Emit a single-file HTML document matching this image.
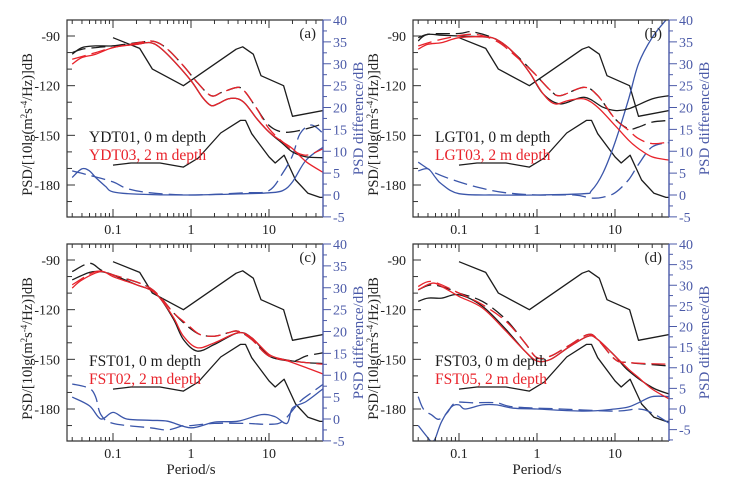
<!DOCTYPE html>
<html><head><meta charset="utf-8">
<style>
html,body{margin:0;padding:0;background:#fff;}
svg{display:block;font-family:"Liberation Serif",serif;}
</style></head>
<body>
<svg id="chart" width="752" height="480" viewBox="0 0 752 480" xmlns="http://www.w3.org/2000/svg"></svg>
<script>
// Shared noise models (period s, dB)
const nhnmP = [0.1,0.22,0.32,0.8,3.8,4.6,6.3,7.9,15.4,20,50];
const nhnmV = [-91,-97.5,-110,-120,-98,-96.5,-101,-114,-120,-138.5,-135];
const nlnmP = [0.1,0.17,0.4,0.8,1.24,2.4,4.3,5,6,10,12,15.6,21.9,31.6,45,50];
const nlnmV = [-168,-166.7,-166.7,-169.2,-163.7,-148.6,-141,-141,-149,-163,-166.7,-162,-177,-185,-187.5,-187.5];

// Panel (a)
const aRedSolidP=[0.03,0.04,0.06,0.1,0.2,0.3,0.4,0.6,1,1.4,1.8,2.2,3,4,5,7,10,15,20,30,50];
const aRedSolidV=[-107,-103,-101,-97,-95,-94,-97,-105,-117,-127,-132,-131,-128,-128,-131,-140,-148,-154,-158,-166,-172.5];
const aRedDashP=[0.03,0.06,0.1,0.25,0.35,0.5,0.8,1.2,1.8,2.5,4,5,7,10,15,20,30,50];
const aRedDashV=[-104,-100,-97,-93.5,-93.5,-98,-108,-118,-126,-124,-121,-124,-134,-146,-154,-159,-162,-158];
const aBlkSolidP=[0.03,0.04,0.06,0.1,0.2,0.3,0.4,0.6,1,1.4,1.8,2.2,3,4,5,7,10,15,20,30,50];
const aBlkSolidV=[-101,-97,-96,-96,-95,-94,-97,-105,-117,-127,-132,-131,-128,-128,-131,-140,-148,-155,-160,-163,-163.5];
const aBlkDashP=[0.03,0.04,0.06,0.1,0.25,0.35,0.5,0.8,1.2,1.8,2.5,4,5,7,10,15,25,50];
const aBlkDashV=[-100,-98,-97,-96,-93.5,-93.5,-98,-108,-118,-126,-124,-121,-124,-134,-144,-148,-147,-143];
const aBlueSolidP=[0.03,0.04,0.05,0.06,0.08,0.1,0.2,1,5,10,15,20,30,50];
const aBlueSolidV=[4,6,5.5,4,2,0.7,0.2,0,0.3,0.5,1,3,8,11];
const aBlueDashP=[0.03,0.05,0.1,0.15,0.3,1,5,10,15,20,25,35,50];
const aBlueDashV=[5.5,4.5,3,1.5,0.5,0,0.5,1,5,9,14,16,14];

// Panel (b)
const bRedSolidP=[0.03,0.04,0.06,0.1,0.2,0.3,0.5,0.8,1.2,1.7,2.5,4,6,10,15,20,30,50];
const bRedSolidV=[-98,-95,-94,-91,-90.5,-92,-100,-112,-125,-131,-129,-128,-133,-144,-153,-158,-163,-165];
const bRedDashP=[0.03,0.06,0.15,0.3,0.5,0.9,1.5,2,4,6,10,15,20,30,50];
const bRedDashV=[-96,-92,-89,-93,-101,-112,-123,-126,-121,-126,-140,-147,-152,-155,-154];
const bBlkSolidP=[0.03,0.04,0.06,0.1,0.2,0.3,0.5,0.8,1.2,2,4,7,10,15,30,50];
const bBlkSolidV=[-91,-89,-89.5,-90,-90.5,-92,-100,-112,-125,-131,-127,-133,-135,-134,-128,-126];
const bBlkDashP=[0.03,0.04,0.1,0.15,0.3,0.5,0.9,1.5,2,4,6,10,15,20,30,50];
const bBlkDashV=[-93,-89,-88.5,-87.5,-92,-100,-112,-123,-126,-121,-126,-140,-146,-145,-142,-141];
const bBlueSolidP=[0.03,0.04,0.05,0.06,0.1,0.3,1,4,5,7,10,15,20,30,45];
const bBlueSolidV=[5.5,6,4,2.5,0.3,0,0,0.3,1,5,12,22,30,36,40];
const bBlueDashP=[0.03,0.05,0.1,0.2,0.4,1,3,5,7,10,15,20,30,50];
const bBlueDashV=[7.5,5,3,1.5,0.5,0,0,-0.7,-0.5,0.5,3.5,7,11,12];

// Panel (c)
const cRedSolidP=[0.03,0.04,0.07,0.1,0.2,0.3,0.4,0.6,0.8,1.2,2,4,6,10,15,20,30,50];
const cRedSolidV=[-107,-102,-97,-100,-105,-108,-113,-125,-136,-143,-140,-134,-137,-147,-150,-152,-155,-159];
const cRedDashP=[0.03,0.06,0.1,0.3,0.6,0.9,1.3,2,3,4,6,10,20,50];
const cRedDashV=[-105,-97,-99,-107,-122,-129,-135,-136,-134,-133,-138,-148,-151,-153];
const cBlkSolidP=[0.03,0.05,0.07,0.1,0.2,0.3,0.4,0.6,0.8,1.2,2,4,6,10,15,20,30,50];
const cBlkSolidV=[-102,-97.5,-97,-99,-105,-108,-113,-126,-138,-145,-141,-134,-137,-148,-150,-151,-152,-152.5];
const cBlkDashP=[0.03,0.05,0.07,0.1,0.3,0.6,0.9,1.3,2,3,4,6,10,20,30,50];
const cBlkDashV=[-97,-92,-96,-99,-107,-122,-130,-135,-136,-134,-133,-138,-148,-151,-148,-146];
const cBlueSolidP=[0.03,0.05,0.07,0.1,0.15,0.3,0.5,1,2,4,8,12,17,20,30,50];
const cBlueSolidV=[5,3,0,1.5,0,-0.3,-0.5,-2,-0.7,-0.5,1,0.5,-1,2.5,4,7];
const cBlueDashP=[0.03,0.05,0.06,0.07,0.1,0.3,0.5,0.8,1,2,5,10,15,25,35,50];
const cBlueDashV=[8,7,5,1,-1,-2,-2.5,-1.5,-1.5,-1,-1,-1.2,-0.5,4,6,8];

// Panel (d)
const dRedSolidP=[0.03,0.045,0.06,0.1,0.2,0.4,0.7,1,1.5,2.5,4.5,6,10,15,20,30,50];
const dRedSolidV=[-108,-104,-106,-112,-119,-133,-145,-151,-150,-143,-136,-138,-148,-156,-161,-168,-174];
const dRedDashP=[0.03,0.045,0.1,0.2,0.4,0.7,1,1.5,2.5,4.5,6,10,15,50];
const dRedDashV=[-106,-103,-110,-117,-127,-140,-149,-148,-142,-135,-138,-150,-152,-153];
const dBlkSolidP=[0.03,0.04,0.06,0.1,0.2,0.4,0.7,1,1.5,2.5,4.5,6,10,15,30,50];
const dBlkSolidV=[-115,-113,-113,-111,-118,-132,-145,-151,-150,-143,-136,-138,-148,-157,-167,-171];
const dBlkDashP=[0.03,0.045,0.08,0.1,0.2,0.4,0.7,1,1.5,2.5,4.5,6,10,15,50];
const dBlkDashV=[-108,-105,-108,-110,-115,-126,-140,-149,-148,-142,-135,-138,-150,-152,-154];
const dBlueSolidP=[0.03,0.04,0.045,0.05,0.06,0.08,0.1,0.12,0.2,0.3,0.5,1,4,10,15,20,30,50];
const dBlueSolidV=[-4,-7,-8,-7,-3,0.5,1,0,1,1,0.2,0,-0.5,0,0.5,1.5,3,3];
const dBlueDashP=[0.03,0.035,0.045,0.055,0.07,0.09,0.15,0.3,0.5,2,10,20,30,50];
const dBlueDashV=[3,0,-1.5,-2.5,-1,1.5,1.5,1.5,0.5,0,-0.5,0,-1,-3.5];

const panels=[
 {id:'a',left:67,top:20,rmin:-5,r0:175,station0:'YDT01, 0 m depth',station2:'YDT03, 2 m depth',xlab:false,
  rs:[aRedSolidP,aRedSolidV],rd:[aRedDashP,aRedDashV],ks:[aBlkSolidP,aBlkSolidV],kd:[aBlkDashP,aBlkDashV],bs:[aBlueSolidP,aBlueSolidV],bd:[aBlueDashP,aBlueDashV]},
 {id:'b',left:413,top:20,rmin:-5,r0:175,station0:'LGT01, 0 m depth',station2:'LGT03, 2 m depth',xlab:false,
  rs:[bRedSolidP,bRedSolidV],rd:[bRedDashP,bRedDashV],ks:[bBlkSolidP,bBlkSolidV],kd:[bBlkDashP,bBlkDashV],bs:[bBlueSolidP,bBlueSolidV],bd:[bBlueDashP,bBlueDashV]},
 {id:'c',left:67,top:244,rmin:-5,r0:175,station0:'FST01, 0 m depth',station2:'FST02, 2 m depth',xlab:true,
  rs:[cRedSolidP,cRedSolidV],rd:[cRedDashP,cRedDashV],ks:[cBlkSolidP,cBlkSolidV],kd:[cBlkDashP,cBlkDashV],bs:[cBlueSolidP,cBlueSolidV],bd:[cBlueDashP,cBlueDashV]},
 {id:'d',left:413,top:244,rmin:-7.8,r0:165,station0:'FST03, 0 m depth',station2:'FST05, 2 m depth',xlab:true,
  rs:[dRedSolidP,dRedSolidV],rd:[dRedDashP,dRedDashV],ks:[dBlkSolidP,dBlkSolidV],kd:[dBlkDashP,dBlkDashV],bs:[dBlueSolidP,dBlueSolidV],bd:[dBlueDashP,dBlueDashV]}
];
const leftTicks=[-90,-120,-150,-180];
const rightTicks=[40,35,30,25,20,15,10,5,0,-5];
const xTicks=[0.1,1,10];
const xTickLabels=['0.1','1','10'];

const NS='http://www.w3.org/2000/svg';
const svg=document.getElementById('chart');
function mk(tag,attrs,parent){const e=document.createElementNS(NS,tag);for(const k in attrs)e.setAttribute(k,attrs[k]);(parent||svg).appendChild(e);return e;}
const BLK='#1c1c1c',RED='#e8232b',BLU='#3b56aa',AX='#4b5aa8';
const W=256,H=197;

function smoothPath(pts){
  let d='M'+pts[0][0].toFixed(1)+','+pts[0][1].toFixed(1);
  for(let i=0;i<pts.length-1;i++){
    const p0=pts[Math.max(0,i-1)],p1=pts[i],p2=pts[i+1],p3=pts[Math.min(pts.length-1,i+2)];
    const c1=[p1[0]+(p2[0]-p0[0])/6,p1[1]+(p2[1]-p0[1])/6];
    const c2=[p2[0]-(p3[0]-p1[0])/6,p2[1]-(p3[1]-p1[1])/6];
    d+='C'+c1[0].toFixed(1)+','+c1[1].toFixed(1)+' '+c2[0].toFixed(1)+','+c2[1].toFixed(1)+' '+p2[0].toFixed(1)+','+p2[1].toFixed(1);
  }
  return d;
}

panels.forEach(p=>{
  const L=p.left,T=p.top,R=L+W,B=T+H;
  const xs=v=>L+124+78*Math.log10(v);
  const yl=v=>T+16+(-90-v)*149/90;
  const rscale=p.r0/40;
  const yr=v=>T+p.r0-v*rscale;
  const g=mk('g',{});
  const clipId='clip'+p.id;
  const cp=mk('clipPath',{id:clipId},g);mk('rect',{x:L,y:T,width:W,height:H},cp);
  const plot=mk('g',{'clip-path':'url(#'+clipId+')'},g);
  
  

  function line(P,V,scale,color,dash,smooth,name){
    const pts=P.map((v,i)=>[xs(v),scale(V[i])]);
    const d=smooth?smoothPath(pts):'M'+pts.map(q=>q[0].toFixed(1)+','+q[1].toFixed(1)).join('L');
    const e=mk('path',{d:d,fill:'none',stroke:color,'stroke-width':1.3,'stroke-linejoin':'round'},plot);
    if(dash)e.setAttribute('stroke-dasharray','14 6');
    
    
  }
  line(nhnmP,nhnmV,yl,BLK,false,false,'nhnm-line');
  line(nlnmP,nlnmV,yl,BLK,false,false,'nlnm-line');
  line(p.bs[0],p.bs[1],yr,BLU,false,true,'difference-solid');
  line(p.bd[0],p.bd[1],yr,BLU,true,true,'difference-dashed');
  line(p.kd[0],p.kd[1],yl,BLK,true,true,'surface-dashed');
  line(p.ks[0],p.ks[1],yl,BLK,false,true,'surface-solid');
  line(p.rd[0],p.rd[1],yl,RED,true,true,'buried-dashed');
  line(p.rs[0],p.rs[1],yl,RED,false,true,'buried-solid');

  // frame
  const fr=mk('path',{d:`M${R},${T}H${L}V${B}H${R}`,fill:'none',stroke:'#333','stroke-width':1.2},g);
  
  const ra=mk('line',{x1:R,y1:T,x2:R,y2:B,stroke:AX,'stroke-width':1.4},g);
  

  // x ticks (log minor)
  for(let dec=-2;dec<=1;dec++){for(let m=1;m<=9;m++){const v=m*Math.pow(10,dec);const x=xs(v);if(x<L||x>R)continue;const len=(m===1)?8:4;
    mk('line',{x1:x,y1:B,x2:x,y2:B-len,stroke:'#333','stroke-width':1},g);
    mk('line',{x1:x,y1:T,x2:x,y2:T+len,stroke:'#333','stroke-width':1},g);}}
  xTicks.forEach((v,i)=>{const t=mk('text',{x:xs(v),y:B+17,'font-size':14,'text-anchor':'middle',fill:'#222'},g);t.textContent=xTickLabels[i];
    });
  // left ticks
  for(let v=-80;v>=-200;v-=10){const y=yl(v);if(y<T||y>B)continue;const major=leftTicks.includes(v);
    mk('line',{x1:L,y1:y,x2:L+(major?8:5),y2:y,stroke:'#333','stroke-width':1},g);}
  leftTicks.forEach(v=>{const t=mk('text',{x:L-7,y:yl(v)+5,'font-size':14,'text-anchor':'end',fill:'#222'},g);t.textContent=v;
    });
  // right ticks
  for(let v=40;v>=p.rmin-0.01;v-=2.5){const y=yr(v);const major=(v%5===0);
    mk('line',{x1:R,y1:y,x2:R+(major?8:4),y2:y,stroke:AX,'stroke-width':1},g);}
  rightTicks.forEach(v=>{if(v<p.rmin)return;const t=mk('text',{x:R+10,y:yr(v)+5,'font-size':14,fill:AX},g);t.textContent=v;
    });
  // axis titles
  const lt=mk('text',{x:0,y:0,'font-size':14.5,'text-anchor':'middle',fill:'#222',transform:`translate(${L-35},${T+H/2+6}) rotate(-90)`},g);
  lt.innerHTML='PSD/[10lg(m<tspan font-size="9" dy="-5">2</tspan><tspan dy="5">s</tspan><tspan font-size="9" dy="-5">-4</tspan><tspan dy="5">/Hz)]dB</tspan>';
  
  const rt=mk('text',{x:0,y:0,'font-size':15,'text-anchor':'middle',fill:AX,transform:`translate(${R+40},${T+H/2}) rotate(-90)`},g);
  rt.textContent='PSD difference/dB';
  
  if(p.xlab){const xt=mk('text',{x:L+124,y:B+33,'font-size':15,'text-anchor':'middle',fill:'#222'},g);xt.textContent='Period/s';
    }
  // legend / label
  const l1=mk('text',{x:L+22,y:T+122,'font-size':15.5,fill:BLK},g);l1.textContent=p.station0;
  
  const l2=mk('text',{x:L+22,y:T+140,'font-size':15.5,fill:RED},g);l2.textContent=p.station2;
  
  const pl=mk('text',{x:R-7,y:T+18,'font-size':15,'text-anchor':'end',fill:'#222'},g);pl.textContent='('+p.id+')';
  
});
</script>
</body></html>
